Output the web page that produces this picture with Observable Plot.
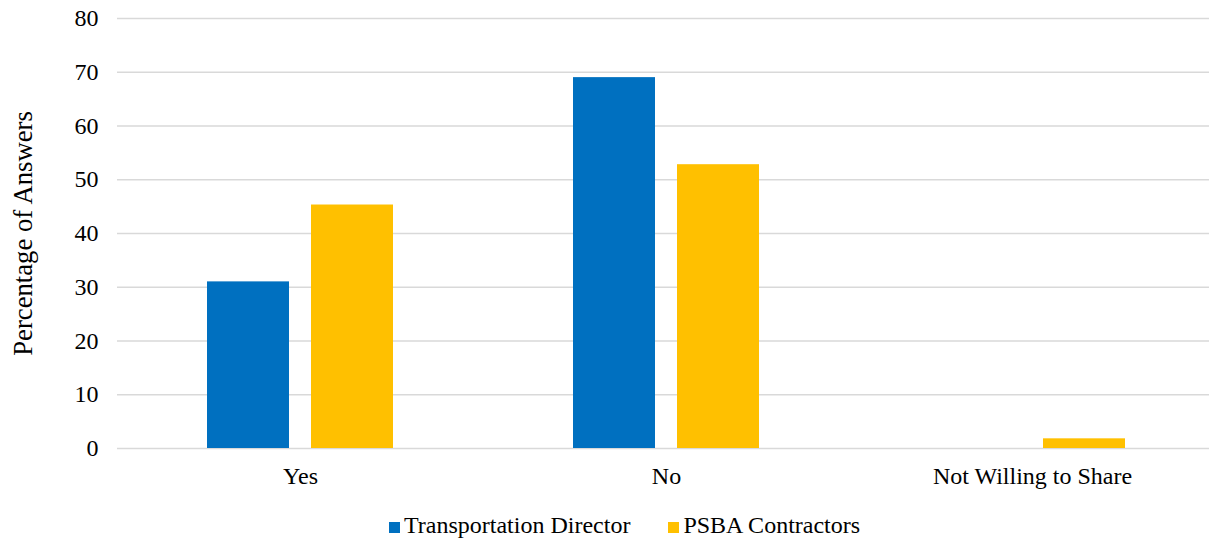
<!DOCTYPE html>
<html>
<head>
<meta charset="utf-8">
<script src="https://cdn.jsdelivr.net/npm/d3@7"></script>
<script src="https://cdn.jsdelivr.net/npm/@observablehq/plot@0.6"></script>
<style>
  html, body { margin: 0; background: #fff; overflow: hidden; width: 1209px; height: 542px; font-family: 'Liberation Serif', serif; }
  #chart svg { display: block; }
  #chart g[aria-label="y-axis label"] text { font-size: 26.7px; }
  #legend { position: absolute; top: 511px; left: 389px; display: flex; align-items: center; line-height: 28px; font-size: 24px; color: #000; font-family: 'Liberation Serif', serif; white-space: nowrap; }
  .item { display: flex; align-items: center; margin-right: 38px; }
  .sw { width: 11px; height: 11px; margin-right: 4px; position: relative; top: 2px; }
</style>
</head>
<body>
<div id="chart"></div>
<div id="legend"></div>
<script>
const categories = ["Yes", "No", "Not Willing to Share"];
const series = ["Transportation Director", "PSBA Contractors"];
const transportationDirector = [31.0, 69.0, 0];
const psbaContractors = [45.3, 52.8, 1.8];
const yTicks = [0, 10, 20, 30, 40, 50, 60, 70, 80];
const colors = ["#0070C0", "#FFC000"];

const rows = [];
categories.forEach((c, i) => {
  rows.push({answer: c, series: series[0], value: transportationDirector[i]});
  rows.push({answer: c, series: series[1], value: psbaContractors[i]});
});

const chart = Plot.plot({
  width: 1209,
  height: 500,
  marginLeft: 116,
  marginRight: 0,
  marginTop: 18,
  marginBottom: 52,
  style: {fontFamily: "'Liberation Serif', serif", fontSize: "24px", color: "#000", background: "#fff"},
  fx: {domain: categories, padding: 0, range: [116, 1215], label: null, axis: null},
  x: {domain: series, paddingInner: 0.209, paddingOuter: 0.86, axis: null},
  y: {domain: [0, 80], ticks: yTicks},
  color: {domain: series, range: colors},
  marks: [
    Plot.gridY(yTicks, {stroke: "#d9d9d9", strokeOpacity: 1, strokeWidth: 1.5}),
    Plot.axisFx({anchor: "bottom", tickSize: 0, tickPadding: 18, label: null, fontSize: 24}),
    Plot.axisY(yTicks, {tickSize: 0, tickPadding: 19, label: "Percentage of Answers", labelAnchor: "center", labelArrow: "none", labelOffset: 104, fontSize: 24}),
    Plot.barY(rows, {fx: "answer", x: "series", y: "value", fill: "series"})
  ]
});
document.getElementById("chart").appendChild(chart);

const legend = document.getElementById("legend");
series.forEach((s, i) => {
  const it = document.createElement("div");
  it.className = "item";
  const sw = document.createElement("div");
  sw.className = "sw";
  sw.style.background = colors[i];
  const t = document.createElement("span");
  t.textContent = s;
  it.appendChild(sw);
  it.appendChild(t);
  legend.appendChild(it);
});
</script>
</body>
</html>
